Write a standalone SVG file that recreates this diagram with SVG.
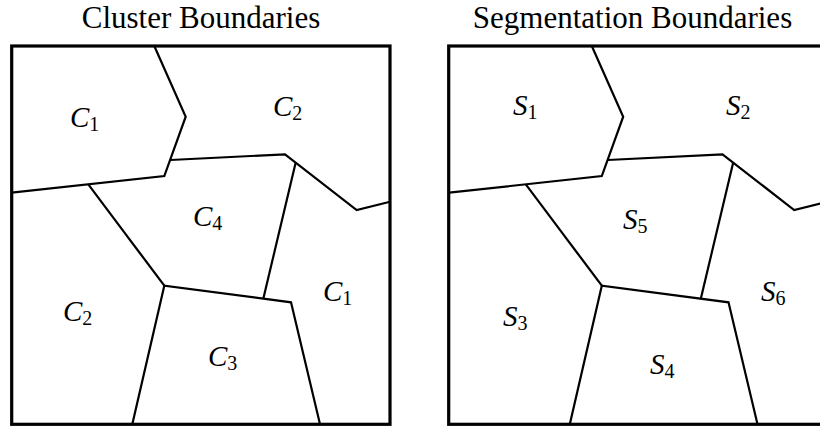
<svg xmlns="http://www.w3.org/2000/svg" xmlns:xlink="http://www.w3.org/1999/xlink" width="820" height="428" viewBox="0 0 820 428">
<style>
.title{font-family:"Liberation Serif","Times New Roman",serif;font-size:31px;fill:#000;text-anchor:middle}
.frame{fill:none;stroke:#000;stroke-width:3.2}
.edge{fill:none;stroke:#000;stroke-width:2.2;stroke-linejoin:miter}
.lab{font-family:"Liberation Serif","Times New Roman",serif;font-style:italic;font-size:29px;fill:#000}
.sub{font-style:normal;font-size:20px}
</style>
<defs>
<g id="bounds">
<path d="M154.3,46 L185.7,116.7 L164.3,176 L11.7,192.7"/>
<path d="M170.2,160 L285,154.3 L356.7,210 L390,201.7"/>
<path d="M88.3,184.3 L164.3,285.7"/>
<path d="M295.7,162.6 L263.3,298.7"/>
<path d="M132.3,424.3 L164.3,285.7 L291,302.3 L320,424.3"/>
</g>
</defs>
<g id="cluster-panel">
<text class="title" x="201" y="28">Cluster Boundaries</text>
<rect class="frame" x="11.7" y="46" width="378.3" height="378.3"/>
<g id="cluster-connectors" class="edge"><use xlink:href="#bounds" href="#bounds"/></g>
<g id="c1a"><text class="lab" x="70" y="127">C<tspan class="sub" dy="4">1</tspan></text></g>
<g id="c2a"><text class="lab" x="273" y="116">C<tspan class="sub" dy="4">2</tspan></text></g>
<g id="c4"><text class="lab" x="193" y="226">C<tspan class="sub" dy="4">4</tspan></text></g>
<g id="c2b"><text class="lab" x="63" y="321">C<tspan class="sub" dy="4">2</tspan></text></g>
<g id="c3"><text class="lab" x="208" y="366">C<tspan class="sub" dy="4">3</tspan></text></g>
<g id="c1b"><text class="lab" x="323" y="301">C<tspan class="sub" dy="4">1</tspan></text></g>
</g>
<g id="segmentation-panel">
<text class="title" x="632.5" y="28">Segmentation Boundaries</text>
<rect class="frame" x="448.7" y="46" width="378.3" height="378.3"/>
<g id="segmentation-connectors" class="edge" transform="translate(437.5,0)"><use xlink:href="#bounds" href="#bounds"/></g>
<g id="s1"><text class="lab" x="513" y="115">S<tspan class="sub" dy="4">1</tspan></text></g>
<g id="s2"><text class="lab" x="726" y="115">S<tspan class="sub" dy="4">2</tspan></text></g>
<g id="s5"><text class="lab" x="623" y="229">S<tspan class="sub" dy="4">5</tspan></text></g>
<g id="s3"><text class="lab" x="503" y="326">S<tspan class="sub" dy="4">3</tspan></text></g>
<g id="s4"><text class="lab" x="650" y="374">S<tspan class="sub" dy="4">4</tspan></text></g>
<g id="s6"><text class="lab" x="761" y="301">S<tspan class="sub" dy="4">6</tspan></text></g>
</g>
</svg>
